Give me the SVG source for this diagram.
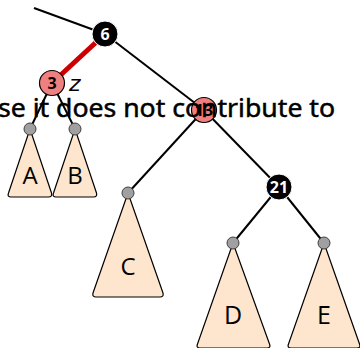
<svg xmlns="http://www.w3.org/2000/svg" width="360" height="348" viewBox="0 0 360 348">
<style>
.edge{stroke:#000;stroke-width:2;fill:none}
.red{stroke:#cc0000;stroke-width:5;fill:none}
.tri{fill:#fee5cd;stroke:#000;stroke-width:1.2;stroke-linejoin:round}
.leaf{fill:#a0a0a0;stroke:#404040;stroke-width:1}
.blk{fill:#000;stroke:#fff;stroke-width:1}
.pink{fill:#f08080;stroke:#000;stroke-width:1.2}
.nl{font-family:"Open Sans","DejaVu Sans",sans-serif;font-weight:bold;font-size:16px;text-anchor:middle;fill:#fff}
.pl{font-family:"Open Sans","DejaVu Sans",sans-serif;font-weight:bold;font-size:16px;text-anchor:middle;fill:#000}
.tl{font-family:"Open Sans","DejaVu Sans",sans-serif;font-size:24px;text-anchor:middle;fill:#000}
.tl2{font-family:"Open Sans","DejaVu Sans",sans-serif;font-size:25px;text-anchor:middle;fill:#000}
</style>
<g id="connectors">
<line class="edge" x1="34" y1="8" x2="105" y2="34"/>
<line class="red" x1="105" y1="34" x2="52" y2="83"/>
<line class="edge" x1="105" y1="34" x2="204" y2="110"/>
<line class="edge" x1="52" y1="83" x2="30" y2="129"/>
<line class="edge" x1="52" y1="83" x2="75" y2="129"/>
<line class="edge" x1="204" y1="110" x2="128" y2="193"/>
<line class="edge" x1="204" y1="110" x2="279" y2="187"/>
<line class="edge" x1="279" y1="187" x2="233" y2="243"/>
<line class="edge" x1="279" y1="187" x2="324" y2="243"/>
</g>
<g id="A">
<path class="tri" d="M30 129 L51.5 193 Q52.5 197 48.5 197 L11 197 Q7 197 8.5 193 Z"/>
<text class="tl" x="30" y="184">A</text>
</g>
<g id="B">
<path class="tri" d="M75 129 L96.5 193 Q97.5 197 93.5 197 L56 197 Q52 197 53.5 193 Z"/>
<text class="tl" x="75" y="184">B</text>
</g>
<g id="C">
<path class="tri" d="M128 193 L163 293 Q164 297 160 297 L96 297 Q92 297 93 293 Z"/>
<text class="tl" x="128" y="275">C</text>
</g>
<g id="D">
<path class="tri" d="M233 243 L269.5 344 Q271 348 267 348 L200 348 Q196 348 197.5 344 Z"/>
<text class="tl2" x="233" y="324">D</text>
</g>
<g id="E">
<path class="tri" d="M324 243 L359.5 344 Q361 348 357 348 L291 348 Q287 348 288.5 344 Z"/>
<text class="tl2" x="324" y="324">E</text>
</g>
<g id="leafA"><circle class="leaf" cx="30" cy="129" r="6"/></g>
<g id="leafB"><circle class="leaf" cx="75" cy="129" r="6"/></g>
<g id="leafC"><circle class="leaf" cx="128" cy="193" r="6"/></g>
<g id="leafD"><circle class="leaf" cx="233" cy="243" r="6"/></g>
<g id="leafE"><circle class="leaf" cx="324" cy="243" r="6"/></g>
<g id="n6">
<circle class="blk" cx="105" cy="34" r="13"/>
<text class="nl" x="105" y="39.5">6</text>
</g>
<g id="n3">
<circle class="pink" cx="52" cy="83" r="12.5"/>
<text class="pl" x="52" y="88.5">3</text>
<text x="69" y="91" font-family="'DejaVu Sans',sans-serif" font-style="italic" font-size="22" fill="#000">z</text>
</g>
<g id="n13">
<circle class="pink" cx="204" cy="110" r="12.5"/>
<text class="pl" x="204" y="115.5">13</text>
</g>
<g id="n21">
<circle class="blk" cx="279" cy="187" r="13"/>
<text class="nl" x="279" y="192.5">21</text>
</g>
<text x="-2" y="117" font-family="'Noto Sans','Open Sans',sans-serif" font-size="26" textLength="337" lengthAdjust="spacingAndGlyphs" fill="#000" stroke="#000" stroke-width="0.5">se it does not contribute to</text>
</svg>
